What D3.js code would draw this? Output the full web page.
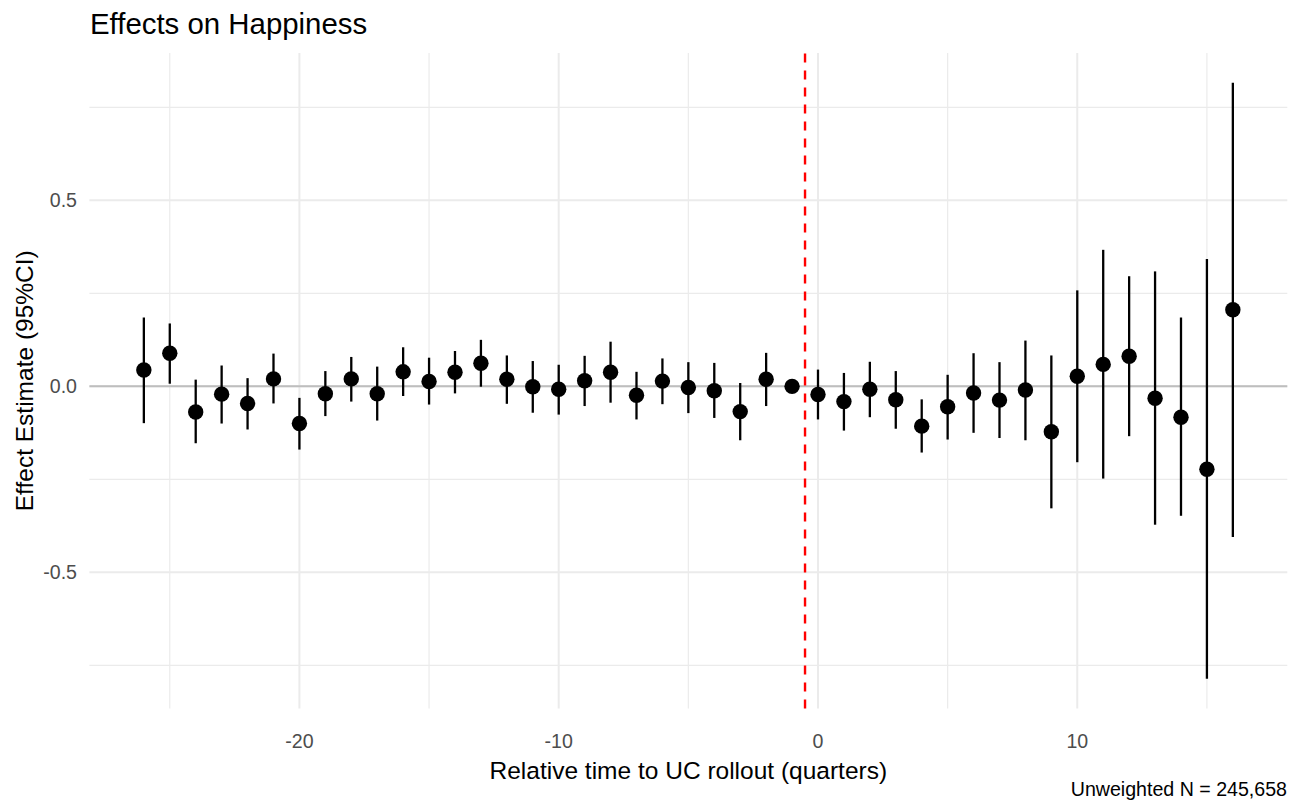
<!DOCTYPE html>
<html>
<head>
<meta charset="utf-8">
<script src="https://cdn.jsdelivr.net/npm/d3@7"></script>
<style>
  body { margin: 0; background: #fff; }
  svg { display: block; font-family: "Liberation Sans", Arial, sans-serif; }
</style>
</head>
<body>
<svg id="chart"></svg>
<script>
// relative quarter, point estimate and 95% CI (period -1 is the reference)
const quarters = [-26, -25, -24, -23, -22, -21, -20, -19, -18, -17, -16, -15, -14, -13, -12, -11, -10, -9, -8, -7, -6, -5, -4, -3, -2, -1, 0, 1, 2, 3, 4, 5, 6, 7, 8, 9, 10, 11, 12, 13, 14, 15, 16];
const estimates = [0.044, 0.089, -0.069, -0.021, -0.046, 0.020, -0.100, -0.020, 0.020, -0.020, 0.039, 0.013, 0.038, 0.062, 0.019, -0.001, -0.008, 0.015, 0.038, -0.024, 0.014, -0.003, -0.012, -0.068, 0.019, 0, -0.022, -0.041, -0.008, -0.036, -0.107, -0.055, -0.018, -0.037, -0.010, -0.122, 0.027, 0.059, 0.081, -0.032, -0.083, -0.223, 0.206];
const lower = [-0.099, 0.007, -0.153, -0.100, -0.116, -0.046, -0.170, -0.080, -0.041, -0.092, -0.026, -0.049, -0.019, -0.001, -0.047, -0.071, -0.076, -0.053, -0.044, -0.089, -0.048, -0.072, -0.085, -0.145, -0.053, null, -0.089, -0.119, -0.083, -0.114, -0.178, -0.143, -0.125, -0.139, -0.145, -0.328, -0.204, -0.248, -0.134, -0.372, -0.348, -0.786, -0.405];
const upper = [0.185, 0.169, 0.018, 0.056, 0.022, 0.088, -0.031, 0.041, 0.079, 0.053, 0.105, 0.077, 0.095, 0.125, 0.083, 0.068, 0.058, 0.082, 0.120, 0.039, 0.075, 0.065, 0.063, 0.009, 0.090, null, 0.045, 0.036, 0.066, 0.041, -0.035, 0.031, 0.089, 0.065, 0.123, 0.083, 0.258, 0.367, 0.296, 0.309, 0.185, 0.342, 0.816];

const xMajor = [-20, -10, 0, 10];
const xMinor = [-25, -15, -5, 5, 15];
const yMajor = [-0.5, 0, 0.5];
const yMinor = [-0.75, -0.25, 0.25, 0.75];
const rolloutLine = -0.5;

const titleText = "Effects on Happiness";
const xTitle = "Relative time to UC rollout (quarters)";
const yTitle = "Effect Estimate (95%CI)";
const captionText = "Unweighted N = 245,658";

const width = 1291, height = 801;
const panel = { left: 89.4, right: 1287.3, top: 53, bottom: 708.5 };

const data = quarters.map((q, i) => ({ q, est: estimates[i], lo: lower[i], hi: upper[i] }));

const svg = d3.select("#chart")
    .attr("width", width)
    .attr("height", height);

// ggplot-style 5% expansion
function expand(ext, f) {
    const pad = (ext[1] - ext[0]) * f;
    return [ext[0] - pad, ext[1] + pad];
}
const xExt = d3.extent(quarters);
const yExt = [d3.min(data, d => d.lo ?? d.est), d3.max(data, d => d.hi ?? d.est)];

const x = d3.scaleLinear().domain(expand(xExt, 0.05)).range([panel.left, panel.right]);
const y = d3.scaleLinear().domain(expand(yExt, 0.05)).range([panel.bottom, panel.top]);

// grid
const grid = svg.append("g");
grid.selectAll("line.ymin").data(yMinor).join("line")
    .attr("x1", panel.left).attr("x2", panel.right)
    .attr("y1", d => y(d)).attr("y2", d => y(d))
    .attr("stroke", "#ebebeb").attr("stroke-width", 1.2);
grid.selectAll("line.xmin").data(xMinor).join("line")
    .attr("y1", panel.top).attr("y2", panel.bottom)
    .attr("x1", d => x(d)).attr("x2", d => x(d))
    .attr("stroke", "#ebebeb").attr("stroke-width", 1.2);
grid.selectAll("line.ymaj").data(yMajor).join("line")
    .attr("x1", panel.left).attr("x2", panel.right)
    .attr("y1", d => y(d)).attr("y2", d => y(d))
    .attr("stroke", "#ebebeb").attr("stroke-width", 2);
grid.selectAll("line.xmaj").data(xMajor).join("line")
    .attr("y1", panel.top).attr("y2", panel.bottom)
    .attr("x1", d => x(d)).attr("x2", d => x(d))
    .attr("stroke", "#ebebeb").attr("stroke-width", 2);

// zero line
svg.append("line")
    .attr("x1", panel.left).attr("x2", panel.right)
    .attr("y1", y(0)).attr("y2", y(0))
    .attr("stroke", "#bebebe").attr("stroke-width", 2);

// rollout line (dashes start from the bottom, as in R)
svg.append("line")
    .attr("x1", x(rolloutLine)).attr("x2", x(rolloutLine))
    .attr("y1", panel.bottom).attr("y2", panel.top)
    .attr("stroke", "#ff0000").attr("stroke-width", 2.4)
    .attr("stroke-dasharray", "9,8");

// error bars
svg.append("g").selectAll("line")
    .data(data.filter(d => d.lo !== null))
    .join("line")
    .attr("x1", d => x(d.q)).attr("x2", d => x(d.q))
    .attr("y1", d => y(d.lo)).attr("y2", d => y(d.hi))
    .attr("stroke", "#000").attr("stroke-width", 2.3);

// points
svg.append("g").selectAll("circle")
    .data(data)
    .join("circle")
    .attr("cx", d => x(d.q))
    .attr("cy", d => y(d.est))
    .attr("r", 7.7)
    .attr("fill", "#000");

// tick labels
svg.append("g").selectAll("text")
    .data(xMajor)
    .join("text")
    .attr("x", d => x(d))
    .attr("y", 748)
    .attr("text-anchor", "middle")
    .style("font-size", "19.6px")
    .attr("fill", "#4d4d4d")
    .text(d => d3.format("d")(d).replace("−", "-"));

svg.append("g").selectAll("text")
    .data(yMajor)
    .join("text")
    .attr("x", 77)
    .attr("y", d => y(d))
    .attr("dy", "0.35em")
    .attr("text-anchor", "end")
    .style("font-size", "19.6px")
    .attr("fill", "#4d4d4d")
    .text(d => d3.format(".1f")(d).replace("−", "-"));

// titles
svg.append("text")
    .attr("x", 90).attr("y", 34)
    .style("font-size", "29.4px")
    .attr("fill", "#000")
    .text(titleText);

svg.append("text")
    .attr("x", (panel.left + panel.right) / 2).attr("y", 779)
    .attr("text-anchor", "middle")
    .style("font-size", "24.5px")
    .text(xTitle);

svg.append("text")
    .attr("transform", `translate(33, ${(panel.top + panel.bottom) / 2}) rotate(-90)`)
    .attr("text-anchor", "middle")
    .style("font-size", "24.5px")
    .text(yTitle);

svg.append("text")
    .attr("x", 1287).attr("y", 796)
    .attr("text-anchor", "end")
    .style("font-size", "19.6px")
    .text(captionText);
</script>
</body>
</html>
